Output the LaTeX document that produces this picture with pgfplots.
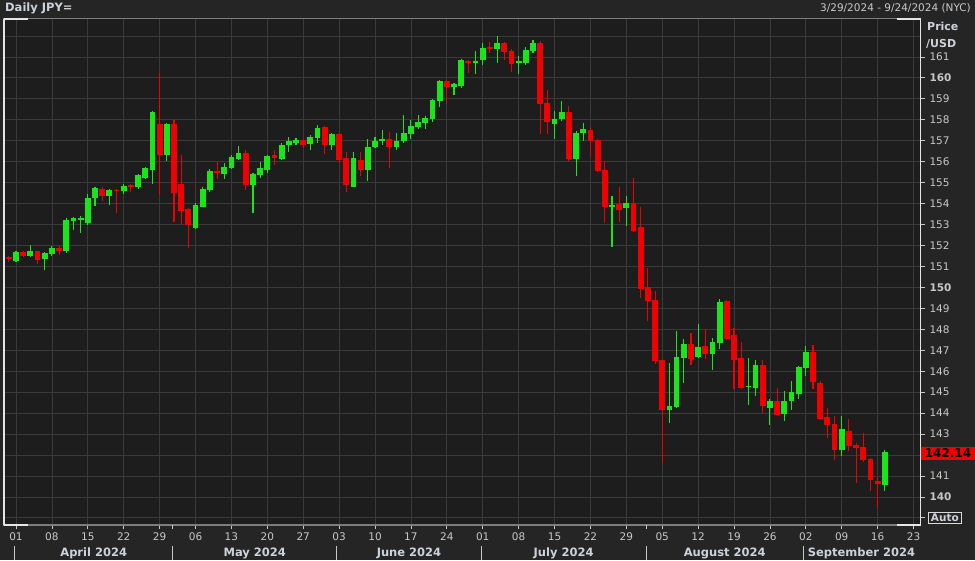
\documentclass[border=0pt]{standalone}
\usepackage{pgfplots}
\pgfplotsset{compat=1.18}
\usepackage{pgfplotstable}
\usepackage{fontspec}
\setmainfont{DejaVu Sans}

\definecolor{bgouter}{RGB}{37,37,37}
\definecolor{bgplot}{RGB}{28,29,28}
\definecolor{gridc}{RGB}{58,58,58}
\definecolor{framegray}{RGB}{125,125,125}
\definecolor{txt}{RGB}{200,200,200}
\definecolor{hdr}{RGB}{205,210,218}
\definecolor{upc}{RGB}{25,230,25}
\definecolor{dnc}{RGB}{240,0,0}

% daily USD/JPY candles, x = trading day (0 = Mon 1 Apr 2024)
\pgfplotstableread{
i O H L C
0 151.28 151.76 151.21 151.68
2 151.49 152.00 151.44 151.73
4 151.36 151.68 150.81 151.63
5 151.60 151.97 151.52 151.87
7 151.73 153.30 151.65 153.23
8 153.15 153.34 152.76 153.30
9 153.23 153.39 152.60 153.31
10 153.07 154.45 152.99 154.29
11 154.26 154.81 153.90 154.75
13 154.37 154.69 153.93 154.64
15 154.58 154.92 154.45 154.85
17 154.81 155.42 154.72 155.35
18 155.24 155.76 155.16 155.68
19 155.61 158.44 154.92 158.38
21 156.32 157.85 156.03 157.82
25 152.84 154.02 152.79 153.93
26 153.86 154.81 153.82 154.72
27 154.64 155.67 154.56 155.56
29 155.43 155.92 155.19 155.75
30 155.72 156.33 155.64 156.22
31 156.14 156.75 156.08 156.43
33 154.88 155.48 153.53 155.43
34 155.37 156.00 155.21 155.68
35 155.61 156.32 155.48 156.27
37 156.14 156.87 156.08 156.82
38 156.78 157.19 156.48 156.98
39 156.90 157.14 156.79 157.03
41 156.86 157.25 156.54 157.19
42 157.14 157.77 156.90 157.62
44 156.78 157.38 156.56 157.33
47 154.81 156.48 154.77 156.16
49 155.61 157.09 155.08 156.70
50 156.70 157.19 156.63 157.01
51 157.01 157.49 156.79 157.09
53 156.70 157.38 156.56 157.01
54 156.98 158.25 156.87 157.35
55 157.30 157.98 157.09 157.69
56 157.65 158.25 157.54 157.88
57 157.85 158.17 157.54 158.09
58 158.04 158.99 157.88 158.93
59 158.88 159.91 158.61 159.83
61 159.56 159.75 159.17 159.70
62 159.63 160.89 159.51 160.83
64 160.73 161.26 160.20 160.81
65 160.83 161.68 160.62 161.41
67 161.38 162.00 160.70 161.65
70 160.70 161.05 160.20 160.81
71 160.70 161.49 160.62 161.34
72 161.26 161.81 161.21 161.65
75 157.82 158.41 157.09 158.04
76 158.04 158.88 157.93 158.36
78 156.11 157.46 155.32 157.38
79 157.35 157.85 156.98 157.54
83 153.86 154.37 151.92 153.94
85 153.77 154.37 152.95 154.02
91 144.13 146.40 143.54 144.33
92 144.29 147.92 144.25 146.69
93 146.64 147.52 145.42 147.31
95 146.67 148.27 146.62 147.17
97 146.80 147.60 146.05 147.39
98 147.33 149.43 147.04 149.32
102 145.24 146.64 144.41 145.29
103 145.18 146.52 144.81 146.29
105 144.25 144.68 143.41 144.57
107 143.97 145.05 143.62 144.60
108 144.57 145.53 144.17 145.00
109 144.89 146.24 144.65 146.20
110 146.16 147.20 145.77 146.91
115 142.23 143.85 141.94 143.22
121 140.59 142.23 140.27 142.14
}\upcandles

\pgfplotstableread{
i O H L C
-1 151.44 151.52 151.21 151.36
1 151.68 151.73 151.47 151.52
3 151.73 151.76 151.13 151.33
6 151.87 151.97 151.55 151.76
12 154.72 154.77 154.13 154.37
14 154.66 154.69 153.53 154.59
16 154.88 154.92 154.53 154.81
20 157.82 160.24 154.42 156.32
22 157.82 158.01 153.10 154.50
23 154.92 156.32 153.03 153.66
24 153.74 153.79 151.89 152.98
28 155.54 156.00 155.16 155.45
32 156.40 156.56 154.66 154.88
36 156.30 156.56 155.84 156.19
40 157.03 157.06 156.63 156.82
43 157.65 157.69 156.35 156.78
45 157.30 157.38 155.95 156.08
46 156.16 156.46 154.53 154.89
48 156.08 156.48 155.32 155.61
52 157.09 157.43 155.72 156.70
60 159.83 159.91 158.77 159.56
63 160.81 160.86 160.23 160.73
66 161.49 161.73 161.21 161.37
68 161.65 161.73 160.86 161.22
69 161.29 161.37 160.27 160.67
73 161.68 161.76 157.33 158.77
74 158.80 159.44 157.30 157.88
77 158.38 158.68 156.03 156.11
80 157.49 157.65 156.24 156.98
81 157.03 157.09 155.53 155.56
82 155.59 156.03 153.07 153.86
84 153.98 154.77 153.10 153.71
86 154.02 155.24 152.66 152.71
87 152.87 153.82 149.50 149.93
88 150.00 150.93 148.41 149.34
89 149.38 149.82 146.36 146.47
90 146.53 146.60 141.62 144.13
94 147.31 147.84 146.28 146.56
96 147.20 148.00 146.59 146.80
99 149.35 149.40 147.50 147.52
100 147.71 148.08 145.13 146.53
101 146.64 147.39 145.13 145.21
104 146.29 146.52 144.01 144.36
106 144.57 145.21 143.93 143.93
111 146.91 147.25 145.13 145.48
112 145.45 145.53 143.70 143.73
113 143.81 144.25 142.82 143.41
114 143.46 143.85 141.78 142.23
116 143.17 143.73 142.21 142.42
117 142.50 142.58 140.67 142.34
118 142.39 143.06 141.66 141.74
119 141.83 141.86 140.27 140.83
120 140.75 140.94 139.47 140.64
}\dncandles

\pgfplotsset{
  wick/.style={draw=none, mark=none, forget plot,
    error bars/.cd, y dir=plus, y explicit, error mark=none,
    error bar style={draw=#1, line width=1.1pt}},
  body/.style={draw=none, mark=none, forget plot,
    error bars/.cd, y dir=plus, y explicit, error mark=none,
    error bar style={draw=#1, line width=5.8pt}},
}

\begin{document}
\begin{tikzpicture}
\fill[bgouter] (0,0) rectangle (975pt,560pt);
\begin{axis}[
  at={(4pt,35pt)}, anchor=south west,
  scale only axis, width=916.7pt, height=506pt,
  xmin=-1.671, xmax=125.997, ymin=138.66, ymax=162.81,
  axis background/.style={fill=bgplot},
  axis line style={draw=framegray, line width=1pt},
  grid=major, grid style={draw=gridc, line width=0.8pt},
  xtick={0,5,...,125},
  xticklabels={01,08,15,22,29,06,13,20,27,03,10,17,24,01,08,15,22,29,05,12,19,26,02,09,16,23},
  ytick={139,140,...,161},
  yticklabels={{},\textbf{140},141,{},143,144,145,146,147,148,149,\textbf{150},151,152,153,154,155,156,157,158,159,\textbf{160},161},
  extra y ticks={162}, extra y tick labels={},
  extra y tick style={major tick length=0pt, grid=major},
  xtick pos=left, ytick pos=right, yticklabel pos=right,
  tick align=outside, major tick length=4pt,
  tick style={draw=txt, line width=0.8pt},
  ticklabel style={font=\fontsize{10.5}{12}\selectfont, text=txt},
  xticklabel style={anchor=north, inner sep=0pt, yshift=-3.5pt},
  yticklabel style={anchor=west, inner sep=0pt, xshift=4.6pt},
]
\addplot[wick=upc] table[x=i, y=L, y error plus expr=\thisrow{H}-\thisrow{L}] {\upcandles};
\addplot[body=upc] table[x=i, y=O, y error plus expr=\thisrow{C}-\thisrow{O}] {\upcandles};
\addplot[wick=dnc] table[x=i, y=L, y error plus expr=\thisrow{H}-\thisrow{L}] {\dncandles};
\addplot[body=dnc] table[x=i, y=C, y error plus expr=\thisrow{O}-\thisrow{C}] {\dncandles};
\end{axis}

% frame: white sides and corner pieces
\draw[white!90!black, line width=1.2pt] (4pt,35pt) -- (4pt,541pt);
\draw[white!90!black, line width=1.2pt] (920.7pt,35pt) -- (920.7pt,541pt);
\draw[white!90!black, line width=1.2pt] (4pt,541pt) -- (28pt,541pt) (4pt,35pt) -- (28pt,35pt)
  (897pt,541pt) -- (920.7pt,541pt) (897pt,35pt) -- (920.7pt,35pt);

% header
\node[anchor=west, inner sep=0pt, text=hdr, font=\bfseries\fontsize{11.5}{13}\selectfont] at (5pt,551.5pt) {Daily JPY=};
\node[anchor=east, inner sep=0pt, text=txt, font=\fontsize{10.5}{12}\selectfont] at (971pt,551.5pt) {3/29/2024 - 9/24/2024 (NYC)};
\node[anchor=west, inner sep=0pt, text=hdr, font=\bfseries\fontsize{11}{13}\selectfont] at (927pt,533.3pt) {Price};
\node[anchor=west, inner sep=0pt, text=hdr, font=\bfseries\fontsize{11}{13}\selectfont] at (926pt,515.7pt) {/USD};

% last price tag and Auto button
\fill[dnc] (920.7pt,100pt) rectangle (975pt,113.3pt);
\node[inner sep=0pt, text=black, font=\bfseries\fontsize{12}{13}\selectfont] at (948pt,106.7pt) {142.14};
\node[anchor=west, draw=white!85!black, line width=0.8pt, inner xsep=2.5pt, inner ysep=1.5pt,
  text=hdr, font=\bfseries\fontsize{10.5}{12}\selectfont] at (928pt,42pt) {Auto};

% month row
\foreach \mx in {14.6,172.8,336.9,481.2,646,803.3}
  \draw[txt, line width=1pt] (\mx pt,0pt) -- (\mx pt,14pt);
\foreach \mx in {172.8,646}
  \draw[txt, line width=0.8pt] (\mx pt,35pt) -- (\mx pt,31pt);
\foreach \mx/\mn in {93.7/April 2024,254.8/May 2024,409/June 2024,563.6/July 2024,724.7/August 2024,861.5/September 2024}
  \node[inner sep=0pt, text=hdr, font=\bfseries\fontsize{11.5}{13}\selectfont] at (\mx pt,7pt) {\mn};

\pgfresetboundingbox
\path[use as bounding box] (0,0) rectangle (975pt,560pt);
\end{tikzpicture}
\end{document}
